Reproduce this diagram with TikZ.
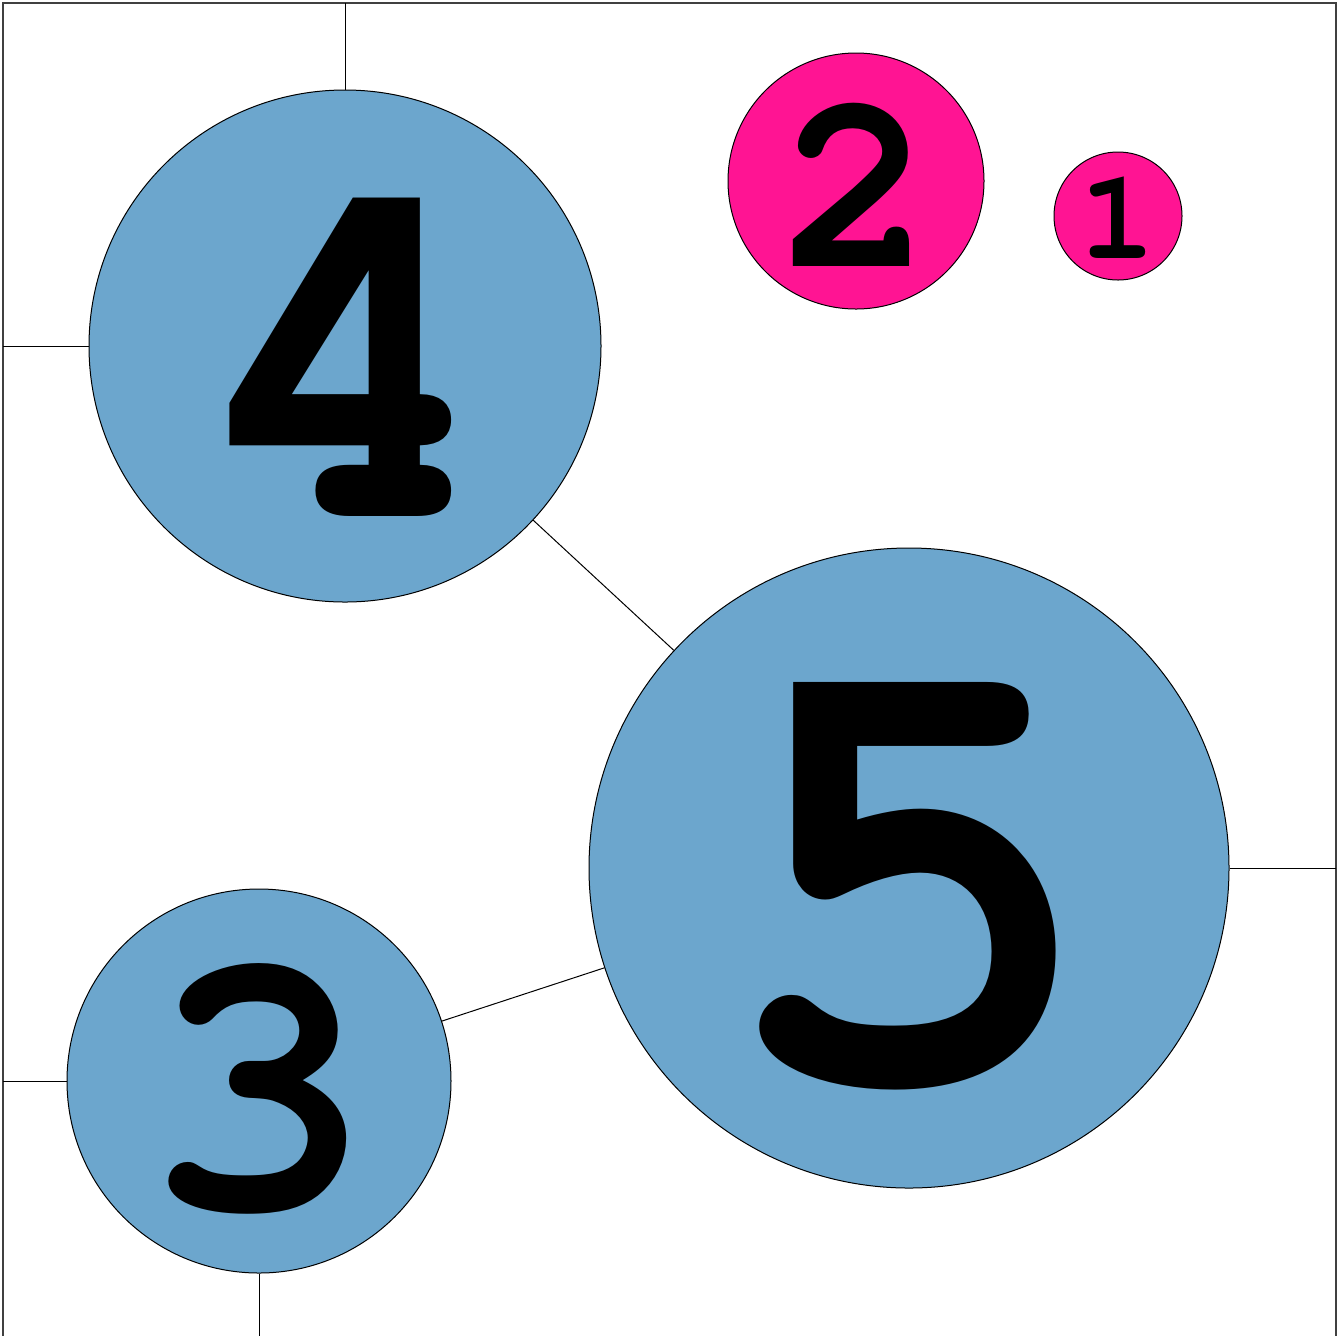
\documentclass[tikz,border=0pt]{standalone}
\usepackage{fontspec}
\newfontfamily\numfont{TeX Gyre Cursor}
\definecolor{ballblue}{HTML}{6CA6CD}
\definecolor{ballpink}{HTML}{FF1493}
\begin{document}
\begin{tikzpicture}[x=0.5pt,y=-0.5pt,
  ball/.style={circle, draw=black, line width=0.5pt, inner sep=0pt, text depth=0pt},
  blueball/.style={ball, fill=ballblue},
  pinkball/.style={ball, fill=ballpink},
  link/.style={draw=black, line width=0.5pt},
  frame/.style={draw=black!75, line width=0.6pt}]
\useasboundingbox (0,0) rectangle (1343,1335);
\draw[frame] (3,1340) -- (3,3) -- (1336,3) -- (1336,1340);
\coordinate (f4t) at (345,3);
\coordinate (f4l) at (3,346);
\coordinate (f5r) at (1336,868);
\coordinate (f3l) at (3,1081);
\coordinate (f3b) at (259,1340);
\node[blueball, minimum size=256pt, text height=170pt, font={\numfont\bfseries\fontsize{256pt}{256pt}\selectfont}] (n4) at (345,346) {4};
\node[pinkball, minimum size=128pt, text height=85pt, font={\numfont\bfseries\fontsize{128pt}{128pt}\selectfont}] (n2) at (856,181) {2};
\node[pinkball, minimum size=64pt, text height=42.5pt, font={\numfont\bfseries\fontsize{64pt}{64pt}\selectfont}] (n1) at (1118,216) {1};
\node[blueball, minimum size=320pt, text height=212.5pt, font={\numfont\bfseries\fontsize{320pt}{320pt}\selectfont}] (n5) at (909,868) {5};
\node[blueball, minimum size=192pt, text height=127.5pt, font={\numfont\bfseries\fontsize{192pt}{192pt}\selectfont}] (n3) at (259,1081) {3};
\draw[link] (n4) -- (f4t);
\draw[link] (n4) -- (f4l);
\draw[link] (n4) -- (n5);
\draw[link] (n5) -- (f5r);
\draw[link] (n3) -- (n5);
\draw[link] (n3) -- (f3l);
\draw[link] (n3) -- (f3b);
\end{tikzpicture}
\end{document}
